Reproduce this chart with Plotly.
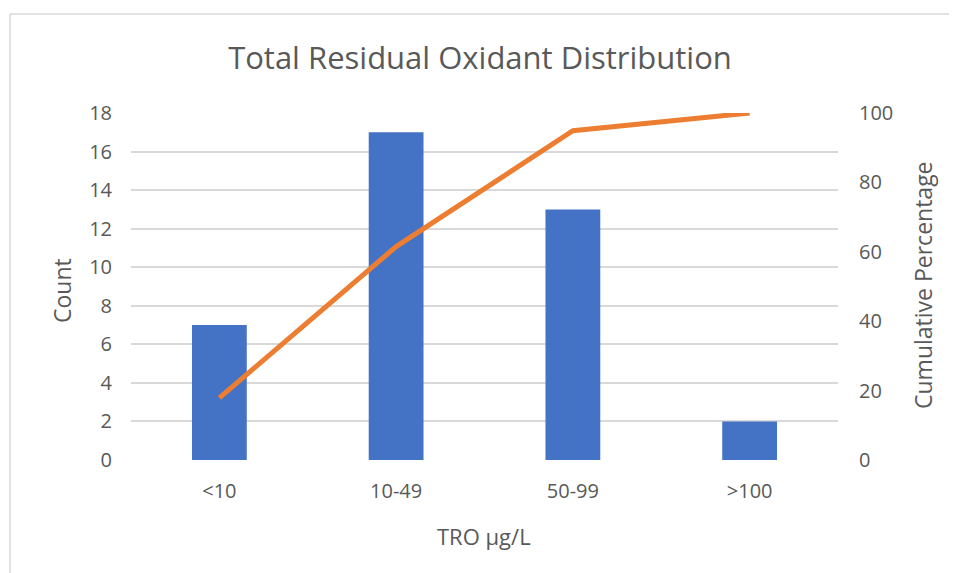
import plotly.graph_objects as go

categories = ["<10", "10-49", "50-99", ">100"]
counts = [7, 17, 13, 2]
cumulative_pct = [17.9, 61.5, 94.9, 100]

W, H = 949, 565
L, R, T, B = 123, 119, 105, 113
pw, ph = W - L - R, H - T - B

fig = go.Figure()
fig.add_trace(go.Bar(x=categories, y=counts, marker=dict(color="#4472C4", line=dict(width=0)),
                     yaxis="y", name="Count"))
fig.add_trace(go.Scatter(x=categories, y=cumulative_pct, mode="lines",
                         line=dict(color="#ED7D31", width=5), yaxis="y2", name="Cumulative"))

font_family = "Open Sans, Liberation Sans, sans-serif"
grey = "#595959"


def px_x(x):
    return (x - L) / pw


def px_y(y):
    return (H - B - y) / ph


fig.update_layout(
    width=W, height=H,
    margin=dict(l=L, r=R, t=T, b=B),
    paper_bgcolor="white", plot_bgcolor="white",
    showlegend=False,
    bargap=0.69,
    font=dict(family=font_family, color=grey, size=20),
    title=dict(text="Total Residual Oxidant Distribution", xref="container", x=472 / W, xanchor="center",
               yref="container", y=1 - 50 / H, yanchor="middle",
               font=dict(size=31, color=grey, family=font_family)),
    xaxis=dict(showgrid=False, showline=False, ticks="", tickfont=dict(size=20, color=grey),
               ticklabelstandoff=17),
    yaxis=dict(range=[0, 18], dtick=2, showgrid=True, gridcolor="#D9D9D9", gridwidth=1.5,
               zeroline=False, showline=False, ticks="", tickfont=dict(size=20, color=grey),
               ticklabelstandoff=18),
    yaxis2=dict(range=[0, 100], dtick=20, overlaying="y", side="right", showgrid=False,
                zeroline=False, showline=False, ticks="", tickfont=dict(size=20, color=grey),
                ticklabelstandoff=20),
    annotations=[
        dict(text="Count", xref="paper", yref="paper", x=px_x(54), y=px_y(283), textangle=-90,
             showarrow=False, xanchor="center", yanchor="middle", font=dict(size=23, color=grey)),
        dict(text="Cumulative Percentage", xref="paper", yref="paper", x=px_x(915), y=px_y(277),
             textangle=-90, showarrow=False, xanchor="center", yanchor="middle",
             font=dict(size=23, color=grey)),
        dict(text="TRO μg/L", xref="paper", yref="paper", x=px_x(476), y=px_y(528),
             showarrow=False, xanchor="center", yanchor="middle", font=dict(size=22, color=grey)),
    ],
    shapes=[
        dict(type="line", xref="paper", yref="paper", x0=px_x(2), x1=px_x(1000), y0=px_y(6), y1=px_y(6),
             line=dict(color="#D9D9D9", width=1.5), layer="below"),
        dict(type="line", xref="paper", yref="paper", x0=px_x(2), x1=px_x(2), y0=px_y(6), y1=px_y(700),
             line=dict(color="#D9D9D9", width=1.5), layer="below"),
    ],
)
fig.write_html("out.html")
